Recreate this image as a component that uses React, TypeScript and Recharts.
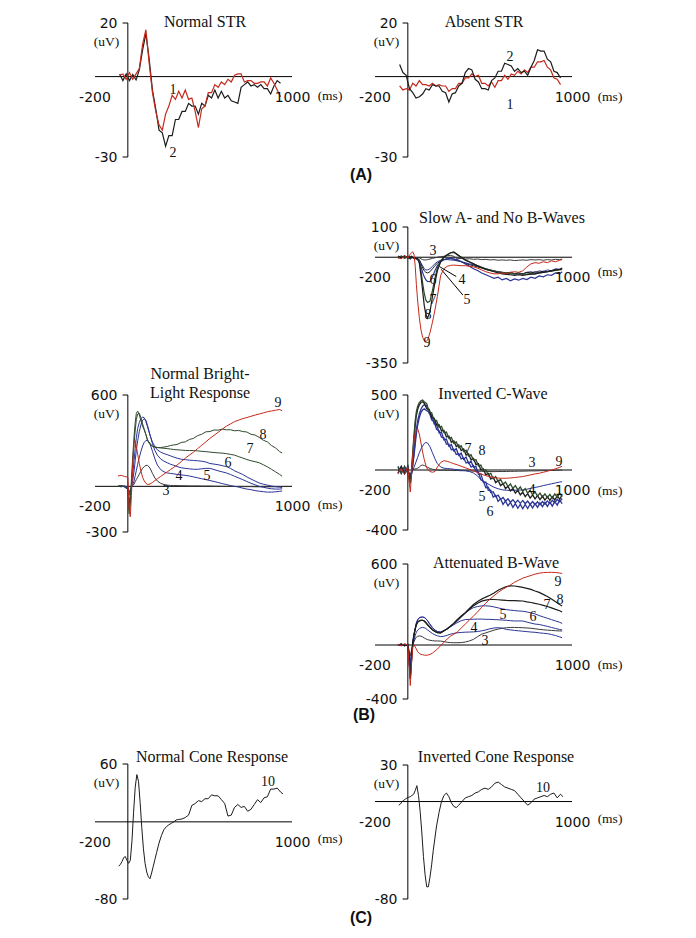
import React from 'react'
import { LineChart, Line, XAxis, YAxis, ReferenceLine } from 'recharts'

// px per ms on every panel: the x axis runs -200..1000 ms over 197 px
const K = 197 / 1200
const PAD = 6
const SERIF = '"Liberation Serif", "Times New Roman", serif'
const SANS = '"DejaVu Sans", Verdana, sans-serif'
const BOLD = '"Liberation Sans", Arial, sans-serif'

const BLACK = '#1c1c1c'
const RED = '#c42a1c'
const BLUE = '#2c3595'
const GREEN = '#2f4a2c'
const GREY = '#3a3a3a'

// ---------- time grids (ms) ----------
const tStr = [
  -50, -30, -10, 10, 30, 50, 70, 90, 110, 130, 150, 170, 190, 210, 230, 250, 270, 290, 310, 330,
  350, 370, 390, 410, 430, 450, 470, 490, 510, 530, 550, 570, 590, 610, 630, 650, 670, 690, 710, 730,
  750, 770, 790, 810, 830, 850, 870, 890, 910, 930,
]
const tB = [
  -60, -40, -20, 0, 8, 15, 22, 30, 38, 45, 52, 60,
  70, 80, 90, 100, 110, 120, 135, 150, 165, 180,
  200, 220, 240, 260, 280, 300,
  325, 350, 375, 400, 425, 450, 475, 500, 525, 550, 575, 600,
  625, 650, 675, 700, 725, 750, 775, 800, 825, 850, 875, 900, 925, 940,
]
const tZig = [
  -60, -40, -20, 0, 8, 15, 22, 30, 38, 45, 52, 60, 70, 80, 90, 100,
  115, 130, 145, 160, 175, 190, 205, 220, 235, 250, 265, 280, 295, 310, 325, 340, 355, 370, 385, 400,
  415, 430, 445, 460, 475, 490, 505, 520, 535, 550, 565, 580, 595, 610, 625, 640, 655, 670, 685, 700,
  715, 730, 745, 760, 775, 790, 805, 820, 835, 850, 865, 880, 895, 910, 925, 940,
]
const tCone = [
  -55, -45, -35, -25, -15, -5, 5, 15, 25, 35, 45, 55, 65, 75, 85, 95, 105, 115, 125, 135, 145, 155, 165, 175,
  190, 205, 220, 235, 250, 265, 280, 295, 310,
  330, 350, 370, 390, 410, 430, 450, 470, 490, 510, 530, 550, 570, 590, 610, 630, 650, 670, 690, 710,
  730, 750, 770, 790, 810, 830, 850, 870, 890, 910, 930,
  945,
]

// ---------- (A) STR, uV ----------
const normStr2 = [
  1, -1.5, 1, -1.5, 0.8, -1.2, 2.5, 10, 16, 6.5, -5, -12, -20, -21, -26, -22, -22, -16, -16, -13,
  -13, -10, -11, -11, -14, -10, -11, -7, -8, -5, -8, -5.5, -8, -7, -9, -9.5, -10, -4, -3, -2,
  -3.5, -3, -4, -3, -4.5, -4.5, -6.5, -3.5, -1.5, -2.5,
]
const normStr1 = [
  0.5, 1, -1, 1.5, -1, 1, 3, 12, 17.5, 5, -6, -13, -18, -20, -14, -11, -7, -8.5, -5.5, -8,
  -5, -8.5, -8, -13, -19, -12, -11, -6, -6, -3, -4, -2, -3, -1, -2, 0.5, 1, 1, -2, -1.5,
  -1.5, -2.5, -2.5, -2, -2, -3.5, -0.5, -2.5, -5, -7.5,
]
const absStr2 = [
  4.5, 1.5, 0.5, -4.5, -6, -8, -7.5, -6.5, -4.5, -5, -3, -3.5, -3.5, -5.5, -6, -9.5, -6.5, -6, -3.5, -2.5,
  1.5, 3, 2.5, -1, -2, -4.5, -4.5, -5, -1.5, -0.5, 2, 2, 5, 4.5, 4, 2, 3, 1.5, 2, 0.5,
  3.5, 6, 10, 9.5, 9.5, 6.5, 5.5, 2, 1.5, -0.5,
]
const absStr1 = [
  -3.5, -5, -4.5, -5, -2.5, -3.5, -1.5, -3, -3, -3.5, -2.5, -3.5, -3, -3.5, -3.5, -5.5, -4.5, -4.5, -2.5, -2.5,
  -0.5, -0.5, 1, 0, 0.5, -2.5, -2.5, -3.5, -2, -4, -1.5, -1.5, 0.5, -1, 1, 0.5, 2, 1, 2.5, 1.5,
  3.5, 3.5, 5.5, 5.5, 6, 3.5, 2.5, -0.5, -1, -3,
]

// ---------- (B) Slow A- and No B-Waves ----------
const slow3 = [0, 3, -4, 2, -3, 1, -2, 0, -3, -1, -2, -1, -2, -5, -8, -9, -9, -8, -6, -4, -2, 0, 2, 3, 5, 6, 3, -5,
  -4, -6, -5, -7, -6, -8, -7, -9, -8, -10, -9, -10, -9, -11, -10, -9, -10, -8, -9, -8, -10, -8, -9, -7, -8, -6]
const slow4 = [2, -4, 3, -2, 4, -3, 1, -2, -4, -1, -6, -8, -12, -20, -28, -38, -42, -42, -38, -30, -22, -15, -10, -8, -8, -9, -10, -12,
  -15, -18, -22, -25, -30, -34, -38, -42, -45, -48, -52, -55, -50, -56, -52, -55, -50, -48, -52, -45, -48, -42, -45, -38, -40, -35]
const slow5 = [-3, 2, -2, 3, -1, 2, -3, 0, -2, -3, -5, -6, -8, -20, -35, -45, -50, -52, -48, -38, -28, -20, -12, -8, -5, -4, -6, -10,
  -15, -20, -25, -28, -32, -36, -40, -44, -46, -48, -50, -52, -50, -54, -52, -55, -50, -52, -48, -50, -46, -48, -44, -42, -40, -38]
const slow6 = [4, -3, 5, -4, 2, -5, 3, -2, -3, -4, -6, -8, -10, -30, -50, -65, -75, -80, -81, -65, -45, -28, -15, -8, -5, -4, -6, -8,
  -14, -22, -30, -38, -44, -52, -58, -64, -70, -66, -75, -70, -78, -72, -76, -70, -74, -66, -70, -62, -65, -58, -60, -52, -55, -48]
const slow7 = [-2, 4, -3, 3, -4, 2, -1, 1, -3, -2, -3, -6, -15, -45, -85, -120, -142, -150, -145, -110, -70, -35, -12, 0, 8, 14, 16, 8,
  0, -8, -15, -22, -28, -33, -38, -42, -46, -48, -50, -52, -54, -55, -56, -55, -56, -54, -55, -52, -50, -48, -46, -44, -42, -40]
const slow8 = [3, -2, 4, -3, 2, -4, 2, -1, -2, -3, -4, -5, -20, -60, -110, -160, -190, -202, -180, -130, -85, -45, -15, 0, 8, 15, 18, 10,
  0, -10, -16, -22, -28, -34, -40, -44, -48, -52, -55, -57, -58, -60, -58, -60, -58, -56, -55, -52, -50, -48, -45, -42, -40, -38]
const slow9 = [-2, -5, 5, -3, 5, 10, 15, 18, 8, -30, -90, -145, -200, -240, -265, -276, -279, -275, -250, -215, -175, -130, -60, -38, -30, -27, -26, -27,
  -28, -28, -30, -32, -36, -42, -48, -52, -55, -55, -52, -55, -50, -48, -50, -45, -32, -22, -18, -20, -15, -18, -12, -15, -10, -8]

// ---------- (B) Normal Bright-Light Response ----------
const bright3 = [0, 2, -2, 0, -40, -20, -5, 5, 15, 30, 45, 60, 80, 100, 118, 130, 137, 138, 120, 85, 55, 35, 20, 12, 8, 6, 5, 5,
  4, 4, 3, 3, 3, 2, 2, 2, 1, 1, 0, 0, 0, -1, -1, -2, -2, -2, -3, -3, -3, -3, -3, -3, -3, -3]
const bright4 = [0, -3, 2, -5, -60, -30, -10, 10, 35, 70, 105, 145, 190, 230, 265, 290, 300, 303, 280, 230, 180, 140, 110, 95, 88, 85, 82, 78,
  75, 72, 68, 62, 56, 50, 44, 38, 32, 25, 18, 12, 5, 0, -5, -12, -18, -22, -28, -32, -35, -38, -38, -36, -33, -30]
const bright5 = [0, 3, -2, -10, -100, -60, -10, 40, 100, 170, 240, 300, 360, 405, 435, 445, 435, 400, 340, 280, 235, 205, 180, 165, 155, 145, 138, 130,
  122, 118, 115, 112, 112, 115, 118, 118, 110, 102, 95, 88, 78, 66, 55, 44, 32, 20, 10, 0, -6, -12, -16, -18, -18, -16]
const bright6 = [0, -2, 3, -10, -120, -80, 0, 80, 170, 250, 320, 380, 420, 445, 456, 450, 425, 390, 335, 290, 260, 240, 225, 215, 208, 200, 192, 185,
  178, 175, 172, 170, 168, 165, 160, 150, 146, 142, 136, 130, 118, 102, 90, 78, 62, 48, 35, 22, 14, 8, 2, -2, -5, -8]
const bright7 = [0, 4, -3, -20, -160, -100, 20, 150, 280, 370, 440, 475, 480, 450, 410, 375, 340, 305, 280, 265, 258, 255, 252, 250, 248, 245, 242, 240,
  238, 236, 235, 235, 233, 230, 228, 225, 222, 220, 218, 215, 210, 205, 195, 186, 176, 168, 162, 155, 142, 128, 112, 95, 78, 66]
const bright8 = [0, 5, -5, -20, -180, -120, 50, 200, 330, 420, 480, 494, 470, 430, 395, 370, 340, 300, 275, 262, 258, 255, 255, 258, 262, 268, 272, 275,
  288, 292, 308, 315, 333, 342, 358, 360, 370, 369, 376, 371, 372, 365, 367, 360, 357, 342, 337, 322, 303, 292, 268, 252, 228, 219]
const bright9 = [68, 72, 65, 60, -150, -200, -60, 150, 290, 300, 260, 210, 150, 100, 60, 35, 20, 12, 15, 25, 38, 50, 65, 80, 95, 110, 125, 140,
  162, 185, 205, 225, 248, 270, 292, 315, 335, 355, 375, 395, 410, 425, 435, 445, 452, 460, 468, 475, 482, 490, 495, 500, 505, 495]

// ---------- (B) Inverted C-Wave ----------
const invc3 = [0, 8, -6, 4, -20, -30, -10, 0, 5, 8, 10, 12, 20, 30, 33, 30, 25, 18, 10, 5, 2, 0, -2, 0, -3, -2, -4, -3,
  -5, -4, -6, -8, -8, -9, -10, -10, -11, -10, -10, -10, -9, -9, -8, -8, -7, -6, -6, -5, -4, -4, -3, -2, -1, 0]
const invc4 = [10, -10, 5, -5, -30, -40, -20, 0, 20, 40, 60, 85, 115, 140, 160, 176, 184, 180, 155, 115, 75, 42, 20, 12, 10, 8, 5, 2,
  -2, -5, -10, -20, -40, -70, -85, -100, -115, -125, -132, -135, -136, -135, -134, -133, -128, -122, -116, -111, -104, -98, -92, -86, -80, -78]
const invc9 = [-20, 10, -30, 20, -80, -147, -40, 100, 200, 250, 270, 273, 240, 180, 120, 70, 30, 5, -10, -15, -10, 20, 50, 62, 58, 50, 42, 35,
  25, 15, 5, -5, -18, -28, -38, -45, -50, -54, -55, -55, -53, -50, -47, -44, -38, -32, -26, -22, -15, -8, 0, 8, 18, 25]
const invc5 = [-25, 20, -20, 25, -40, -60, -30, 30, 100, 170, 240, 300, 350, 385, 400, 408,
  395, 388, 335, 322, 272, 262, 218, 215, 172, 172, 135, 138, 103, 108, 74, 80, 47, 53, 20, 30,
  -8, -15, -65, -75, -118, -115, -150, -145, -178, -168, -196, -183, -208, -192, -215, -198, -220, -201, -222, -203,
  -225, -207, -229, -210, -231, -212, -232, -210, -228, -206, -224, -202, -218, -195, -212, -190]
const invc6 = [25, -20, 20, -25, -50, -70, -30, 40, 120, 200, 270, 330, 375, 405, 425, 435,
  429, 376, 369, 308, 306, 248, 252, 201, 206, 158, 170, 128, 142, 98, 112, 71, 86, 44, 59, 18,
  24, -29, -26, -81, -81, -136, -134, -181, -168, -209, -192, -229, -206, -239, -216, -249, -224, -255, -229, -258,
  -230, -257, -227, -253, -223, -249, -219, -245, -216, -243, -214, -241, -210, -234, -201, -225]
const invc7 = [-20, 25, -25, 20, -50, -80, -20, 100, 210, 300, 365, 405, 435, 450, 455, 445,
  408, 404, 350, 347, 300, 302, 260, 264, 220, 226, 185, 194, 156, 167, 130, 140, 100, 108, 68, 77,
  36, 42, 0, 7, -32, -23, -60, -48, -84, -70, -104, -90, -124, -108, -140, -123, -154, -136, -166, -148,
  -177, -158, -187, -166, -193, -171, -197, -175, -201, -178, -202, -178, -200, -173, -194, -168]
const invc8 = [20, -25, 25, -20, -60, -90, -20, 120, 240, 330, 390, 425, 450, 462, 467, 455,
  442, 388, 382, 330, 330, 285, 291, 248, 253, 210, 217, 178, 187, 150, 162, 123, 132, 93, 102, 63,
  69, 27, 33, -9, 2, -34, -22, -58, -44, -77, -62, -95, -80, -111, -93, -123, -104, -132, -113, -142,
  -124, -154, -136, -165, -146, -174, -154, -181, -159, -184, -162, -187, -159, -181, -156, -177]

// ---------- (B) Attenuated B-Wave ----------
const att3 = [0, 5, -5, 0, -40, -80, -40, 0, 25, 45, 58, 65, 67, 66, 60, 52, 45, 40, 35, 32, 30, 30, 29, 25, 20, 18, 17, 17,
  18, 22, 30, 42, 62, 80, 90, 100, 110, 118, 124, 128, 130, 130, 129, 128, 126, 124, 120, 116, 113, 110, 108, 106, 104, 104]
const att4 = [0, -6, 4, -2, -60, -120, -60, 0, 40, 70, 95, 110, 122, 128, 130, 128, 122, 112, 98, 85, 75, 68, 62, 65, 72, 80, 86, 90,
  93, 95, 96, 97, 100, 105, 112, 120, 126, 128, 125, 115, 112, 108, 105, 102, 99, 96, 94, 90, 87, 84, 78, 70, 60, 54]
const att5 = [0, 4, -4, 2, -80, -150, -80, 10, 70, 120, 160, 185, 200, 205, 207, 205, 195, 180, 150, 125, 108, 98, 96, 105, 118, 135, 150, 165,
  180, 188, 190, 191, 192, 192, 190, 190, 188, 187, 185, 183, 180, 178, 178, 178, 170, 162, 155, 152, 145, 138, 130, 122, 115, 111]
const att6 = [0, -4, 5, -3, -80, -160, -80, 10, 75, 125, 165, 190, 203, 207, 207, 203, 195, 180, 155, 130, 112, 100, 96, 105, 120, 140, 160, 175,
  205, 235, 260, 277, 285, 290, 290, 288, 282, 275, 268, 262, 258, 255, 252, 250, 245, 238, 230, 218, 208, 198, 188, 178, 168, 160]
const att7 = [0, 6, -5, 3, -120, -250, -120, 20, 80, 120, 150, 170, 180, 183, 183, 178, 165, 150, 130, 112, 100, 92, 90, 105, 120, 140, 160, 185,
  212, 238, 265, 290, 310, 325, 333, 338, 337, 335, 333, 330, 329, 328, 327, 326, 320, 315, 308, 302, 294, 285, 275, 264, 254, 245]
const att8 = [0, 8, -6, 4, -120, -250, -120, 20, 80, 120, 150, 170, 178, 183, 183, 178, 165, 150, 130, 112, 100, 92, 90, 105, 120, 140, 160, 185,
  215, 240, 270, 300, 322, 340, 355, 368, 385, 405, 420, 432, 438, 437, 433, 427, 420, 412, 400, 390, 375, 360, 340, 320, 300, 289]
const att9 = [5, -5, 10, 0, -150, -300, -150, -20, 0, -15, -30, -50, -62, -70, -72, -75, -76, -75, -70, -60, -45, -30, -5, 20, 45, 65, 80, 95,
  125, 155, 185, 215, 245, 280, 310, 340, 365, 390, 410, 428, 445, 465, 480, 495, 505, 515, 525, 532, 536, 538, 538, 537, 533, 530]

// ---------- (C) cone responses ----------
const coneNormal = [
  -46, -44, -41, -37, -36, -40, -43, -40, -20, 10, 36, 49, 42, 20, -6, -28, -43, -52, -57, -59, -53, -46, -39, -32,
  -22, -14, -8, -5, -3, -1.5, 0, 2, 2.5,
  3, 4.5, 7, 17, 19, 22, 21, 24, 24, 28, 27, 27, 23, 19, 6, 7, 15, 18, 15, 16,
  11, 13, 18, 23, 20, 25, 26, 34, 34, 35, 31,
  29,
]
const coneInverted = [
  -3, -2, 0, 1, 2, 3, 3.5, 4, 5, 6, 9, 13, 5, -8, -25, -45, -60, -70, -70, -62, -52, -40, -30, -20,
  -9, 0, 5, 7, 4, -1, -4, -5, -3,
  0, 3, 4, 5, 7, 8, 10, 11, 10, 12, 15, 16, 14, 12, 11, 10, 9, 6, 3, 0,
  -3, -1, 2, 3, 4, 5, 4, 6, 7, 3, 6,
  4,
]

type Trace = { t: number[]; v: number[]; color: string; w?: number }
type Seg = [number, number, number, number]
type Geo = {
  x0: number // page x of the y axis (t = 0)
  top: number
  bottom: number
  yMin: number
  yMax: number
}

const rows = (key: string, t: number[], v: number[]) => t.map((x, i) => ({ t: x, [key]: v[i] }))

function Panel({ g, traces, segs = [] }: { g: Geo; traces: Trace[]; segs?: Seg[] }) {
  const h = g.bottom - g.top
  return (
    <div style={{ position: 'absolute', left: g.x0 - 200 * K - PAD, top: g.top - PAD }}>
      <LineChart
        width={197 + 2 * PAD}
        height={h + 2 * PAD}
        margin={{ top: PAD, right: PAD, bottom: PAD, left: PAD }}
      >
        <XAxis type="number" dataKey="t" domain={[-200, 1000]} hide allowDataOverflow />
        <YAxis type="number" domain={[g.yMin, g.yMax]} hide allowDataOverflow />
        <ReferenceLine y={0} stroke="#000" strokeWidth={1} />
        <ReferenceLine x={0} stroke="#000" strokeWidth={1} />
        <ReferenceLine segment={[{ x: -32, y: g.yMax }, { x: 0, y: g.yMax }]} stroke="#000" />
        <ReferenceLine segment={[{ x: -32, y: g.yMin }, { x: 0, y: g.yMin }]} stroke="#000" />
        {segs.map((s, i) => (
          <ReferenceLine
            key={'s' + i}
            segment={[{ x: s[0], y: s[1] }, { x: s[2], y: s[3] }]}
            stroke="#000"
          />
        ))}
        {traces.map((tr, i) => (
          <Line
            key={i}
            data={rows('v' + i, tr.t, tr.v)}
            dataKey={'v' + i}
            type="linear"
            stroke={tr.color}
            strokeWidth={tr.w ?? 1}
            dot={false}
            isAnimationActive={false}
          />
        ))}
      </LineChart>
    </div>
  )
}

function Txt({
  x,
  y,
  children,
  anchor = 'middle',
  font = SERIF,
  size = 14,
  weight = 400,
}: {
  x: number
  y: number
  children: React.ReactNode
  anchor?: 'start' | 'middle' | 'end'
  font?: string
  size?: number
  weight?: number
}) {
  const tx = anchor === 'middle' ? '-50%' : anchor === 'end' ? '-100%' : '0'
  return (
    <div
      style={{
        position: 'absolute',
        left: x,
        top: y,
        transform: `translate(${tx}, -50%)`,
        fontFamily: font,
        fontSize: size,
        fontWeight: weight,
        lineHeight: 1,
        whiteSpace: 'nowrap',
        color: '#111',
      }}
    >
      {children}
    </div>
  )
}

// axis captions that every panel has
function AxisText({ g, msDy }: { g: Geo; msDy: number }) {
  const zero = g.top + (g.yMax / (g.yMax - g.yMin)) * (g.bottom - g.top)
  return (
    <>
      <Txt x={g.x0 - 10.5} y={g.top} anchor="end" font={SANS} size={14}>{String(g.yMax)}</Txt>
      <Txt x={g.x0 - 21.5} y={g.top + 18.5} size={13.5}>(uV)</Txt>
      <Txt x={g.x0 - 10.5} y={g.bottom} anchor="end" font={SANS} size={14}>{String(g.yMin)}</Txt>
      <Txt x={g.x0 - 33} y={zero + 20} font={SANS} size={14}>-200</Txt>
      <Txt x={g.x0 + 164.5} y={zero + 20} font={SANS} size={14}>1000</Txt>
      <Txt x={g.x0 + 202} y={zero + msDy} size={13.5}>(ms)</Txt>
    </>
  )
}

const gA1: Geo = { x0: 128, top: 23, bottom: 157, yMin: -30, yMax: 20 }
const gA2: Geo = { x0: 408, top: 23, bottom: 157, yMin: -30, yMax: 20 }
const gSlow: Geo = { x0: 408, top: 227, bottom: 363, yMin: -350, yMax: 100 }
const gBright: Geo = { x0: 128, top: 395, bottom: 532, yMin: -300, yMax: 600 }
const gInvC: Geo = { x0: 408, top: 395, bottom: 530, yMin: -400, yMax: 500 }
const gAtt: Geo = { x0: 408, top: 564, bottom: 699, yMin: -400, yMax: 600 }
const gCone: Geo = { x0: 128, top: 764, bottom: 899, yMin: -80, yMax: 60 }
const gInvCone: Geo = { x0: 408, top: 765, bottom: 899, yMin: -80, yMax: 30 }

// trace numbers: [text, page x, page y]
const marks: [string, number, number][] = [
  ['1', 173, 90], ['2', 173, 153],
  ['2', 510, 57], ['1', 510, 105],
  ['3', 433, 251], ['4', 462, 280], ['5', 467, 300], ['6', 433, 280], ['7', 433, 300], ['8', 428, 315], ['9', 427, 343],
  ['9', 278, 403], ['8', 263, 435], ['7', 250, 449], ['6', 228, 463], ['5', 207, 476], ['4', 179, 476], ['3', 166, 491],
  ['7', 468, 449], ['8', 482, 451], ['3', 532, 463], ['9', 559, 462], ['4', 532, 490], ['5', 482, 497], ['6', 490, 512],
  ['9', 558, 582], ['8', 560, 600], ['7', 547, 605], ['6', 533, 617], ['5', 503, 615], ['4', 474, 628], ['3', 485, 641],
  ['10', 268, 782], ['10', 543, 788],
]

export default function App() {
  return (
    <div
      style={{
        position: 'absolute',
        left: 0,
        top: 0,
        width: 696,
        height: 938,
        background: '#fff',
        overflow: 'hidden',
      }}
    >
      <Panel
        g={gA1}
        traces={[
          { t: tStr, v: normStr2, color: BLACK, w: 1.2 },
          { t: tStr, v: normStr1, color: RED, w: 1.2 },
        ]}
      />
      <Panel
        g={gA2}
        traces={[
          { t: tStr, v: absStr1, color: RED, w: 1.2 },
          { t: tStr, v: absStr2, color: BLACK, w: 1.2 },
        ]}
      />
      <Panel
        g={gSlow}
        traces={[
          { t: tB, v: slow3, color: GREY },
          { t: tB, v: slow4, color: BLUE },
          { t: tB, v: slow5, color: BLACK },
          { t: tB, v: slow6, color: BLUE, w: 1.2 },
          { t: tB, v: slow7, color: GREEN, w: 1.2 },
          { t: tB, v: slow8, color: BLACK, w: 1.2 },
          { t: tB, v: slow9, color: RED },
        ]}
        segs={[
          [193, -31, 295, -64],
          [203, -40, 335, -125],
        ]}
      />
      <Panel
        g={gBright}
        traces={[
          { t: tB, v: bright3, color: GREY },
          { t: tB, v: bright4, color: BLUE },
          { t: tB, v: bright5, color: BLUE },
          { t: tB, v: bright6, color: BLUE },
          { t: tB, v: bright7, color: GREEN },
          { t: tB, v: bright8, color: GREEN },
          { t: tB, v: bright9, color: RED },
        ]}
      />
      <Panel
        g={gInvC}
        traces={[
          { t: tB, v: invc3, color: GREY },
          { t: tB, v: invc4, color: BLUE },
          { t: tZig, v: invc5, color: BLUE, w: 1.3 },
          { t: tZig, v: invc6, color: BLUE, w: 1.3 },
          { t: tZig, v: invc7, color: BLACK, w: 1.3 },
          { t: tZig, v: invc8, color: GREEN, w: 1.3 },
          { t: tB, v: invc9, color: RED },
        ]}
      />
      <Panel
        g={gAtt}
        traces={[
          { t: tB, v: att3, color: GREY },
          { t: tB, v: att4, color: BLUE },
          { t: tB, v: att5, color: BLUE },
          { t: tB, v: att6, color: BLUE },
          { t: tB, v: att7, color: BLACK, w: 1.2 },
          { t: tB, v: att8, color: BLACK, w: 1.2 },
          { t: tB, v: att9, color: RED },
        ]}
      />
      <Panel g={gCone} traces={[{ t: tCone, v: coneNormal, color: BLACK }]} />
      <Panel g={gInvCone} traces={[{ t: tCone, v: coneInverted, color: BLACK }]} />

      <AxisText g={gA1} msDy={19} />
      <AxisText g={gA2} msDy={20} />
      <AxisText g={gSlow} msDy={15} />
      <AxisText g={gBright} msDy={19} />
      <AxisText g={gInvC} msDy={21} />
      <AxisText g={gAtt} msDy={20} />
      <AxisText g={gCone} msDy={17} />
      <AxisText g={gInvCone} msDy={17} />

      <Txt x={205} y={22} size={16}>Normal STR</Txt>
      <Txt x={484} y={22} size={16}>Absent STR</Txt>
      <Txt x={502} y={218} size={16}>Slow A- and No B-Waves</Txt>
      <Txt x={200} y={374} size={16}>Normal Bright-</Txt>
      <Txt x={200} y={393} size={16}>Light Response</Txt>
      <Txt x={493} y={394} size={16}>Inverted C-Wave</Txt>
      <Txt x={496} y={563} size={16}>Attenuated B-Wave</Txt>
      <Txt x={212} y={757} size={16}>Normal Cone Response</Txt>
      <Txt x={496} y={757} size={16}>Inverted Cone Response</Txt>

      {marks.map(([s, x, y], i) => (
        <Txt key={i} x={x} y={y} size={14}>{s}</Txt>
      ))}

      <Txt x={361} y={175} font={BOLD} size={16} weight={700}>(A)</Txt>
      <Txt x={364} y={715} font={BOLD} size={16} weight={700}>(B)</Txt>
      <Txt x={361} y={918} font={BOLD} size={16} weight={700}>(C)</Txt>
    </div>
  )
}
